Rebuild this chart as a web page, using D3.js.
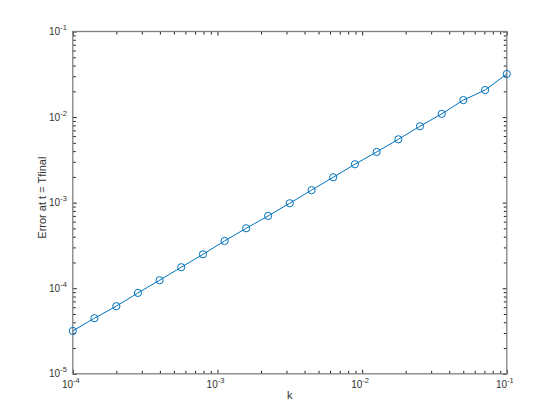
<!DOCTYPE html>
<html>
<head>
<meta charset="utf-8">
<script src="https://cdn.jsdelivr.net/npm/d3@7"></script>
<style>
  body { margin: 0; background: white; }
  text { font-family: "Liberation Sans", Arial, sans-serif; fill: #333; }
</style>
</head>
<body>
<svg width="560" height="420"></svg>
<script>
const kValues = [1e-4, 1.41e-4, 2e-4, 2.82e-4, 3.98e-4, 5.62e-4, 7.94e-4, 1.12e-3, 1.58e-3, 2.24e-3,
    3.16e-3, 4.47e-3, 6.31e-3, 8.91e-3, 1.26e-2, 1.78e-2, 2.51e-2, 3.55e-2, 5.01e-2, 7.08e-2, 1e-1];
const errValues = [3.17e-5, 4.46e-5, 6.17e-5, 8.81e-5, 1.24e-4, 1.76e-4, 2.49e-4, 3.57e-4, 5.02e-4, 7.0e-4,
    9.84e-4, 1.40e-3, 1.98e-3, 2.81e-3, 3.91e-3, 5.50e-3, 7.81e-3, 1.09e-2, 1.58e-2, 2.07e-2, 3.19e-2];
const xDecades = [-4, -3, -2, -1];
const yDecades = [-5, -4, -3, -2, -1];

const svg = d3.select('svg');
const margin = { top: 31.5, bottom: 46.2, left: 72.8, right: 53.2 };
const width = 560 - margin.left - margin.right;
const height = 420 - margin.top - margin.bottom;

const xScale = d3.scaleLog().domain([1e-4, 1e-1]).range([0, width]);
const yScale = d3.scaleLog().domain([1e-5, 1e-1]).range([height, 0]);

const g = svg.append('g').attr('transform', `translate(${margin.left}, ${margin.top})`);

// major + minor tick positions
const minorTicks = decades => {
    const out = [];
    decades.slice(0, -1).forEach(d => {
        for (let m = 2; m <= 9; m++) out.push(m * Math.pow(10, d));
    });
    return out;
};
const xMajor = xDecades.map(d => Math.pow(10, d));
const yMajor = yDecades.map(d => Math.pow(10, d));
const xMinor = minorTicks(xDecades);
const yMinor = minorTicks(yDecades);

const drawAxis = (axisFn, scale, ticks, size, transform) => {
    const ax = g.append('g')
        .attr('transform', transform)
        .call(axisFn(scale).tickValues(ticks).tickSize(size).tickFormat(''));
    ax.select('.domain').remove();
    ax.selectAll('line').attr('stroke', '#222').attr('stroke-width', 1);
};
// ticks pointing inward on all four sides
drawAxis(d3.axisBottom, xScale, xMajor, -4, `translate(0, ${height})`);
drawAxis(d3.axisBottom, xScale, xMinor, -3, `translate(0, ${height})`);
drawAxis(d3.axisTop, xScale, xMajor, -4, 'translate(0, 0)');
drawAxis(d3.axisTop, xScale, xMinor, -3, 'translate(0, 0)');
drawAxis(d3.axisLeft, yScale, yMajor, -4, 'translate(0, 0)');
drawAxis(d3.axisLeft, yScale, yMinor, -3, 'translate(0, 0)');
drawAxis(d3.axisRight, yScale, yMajor, -4, `translate(${width}, 0)`);
drawAxis(d3.axisRight, yScale, yMinor, -3, `translate(${width}, 0)`);

// box
g.append('rect')
    .attr('width', width).attr('height', height)
    .attr('fill', 'none').attr('stroke', '#808080').attr('stroke-width', 1.3);

// tick labels
const powLabel = (sel, exp) => {
    sel.append('tspan').text('10');
    sel.append('tspan').attr('dy', -5).attr('font-size', 7.5).text(String(exp));
};
xDecades.forEach(d => {
    g.append('text')
        .attr('x', xScale(Math.pow(10, d)) - 2)
        .attr('y', height + 14)
        .attr('text-anchor', 'middle')
        .attr('font-size', 10)
        .call(powLabel, d);
});
yDecades.forEach(d => {
    g.append('text')
        .attr('x', -6)
        .attr('y', yScale(Math.pow(10, d)) + 3.5)
        .attr('text-anchor', 'end')
        .attr('font-size', 10)
        .call(powLabel, d);
});

// axis labels
g.append('text')
    .attr('x', width / 2).attr('y', height + 25.5)
    .attr('text-anchor', 'middle').attr('font-size', 11)
    .text('k');
g.append('text')
    .attr('transform', `translate(${-27}, ${height / 2 - 5}) rotate(-90)`)
    .attr('text-anchor', 'middle').attr('font-size', 11)
    .text('Error at t = Tfinal');

// data
const data = kValues.map((k, i) => ({ k: k, err: errValues[i] }));
const line = d3.line().x(d => xScale(d.k)).y(d => yScale(d.err));
g.append('path')
    .datum(data)
    .attr('d', line)
    .attr('fill', 'none')
    .attr('stroke', '#0072BD')
    .attr('stroke-width', 1);
g.selectAll('circle').data(data)
    .enter()
    .append('circle')
    .attr('cx', d => xScale(d.k))
    .attr('cy', d => yScale(d.err))
    .attr('r', 3.6)
    .attr('fill', 'none')
    .attr('stroke', '#0072BD')
    .attr('stroke-width', 1);
</script>
</body>
</html>
